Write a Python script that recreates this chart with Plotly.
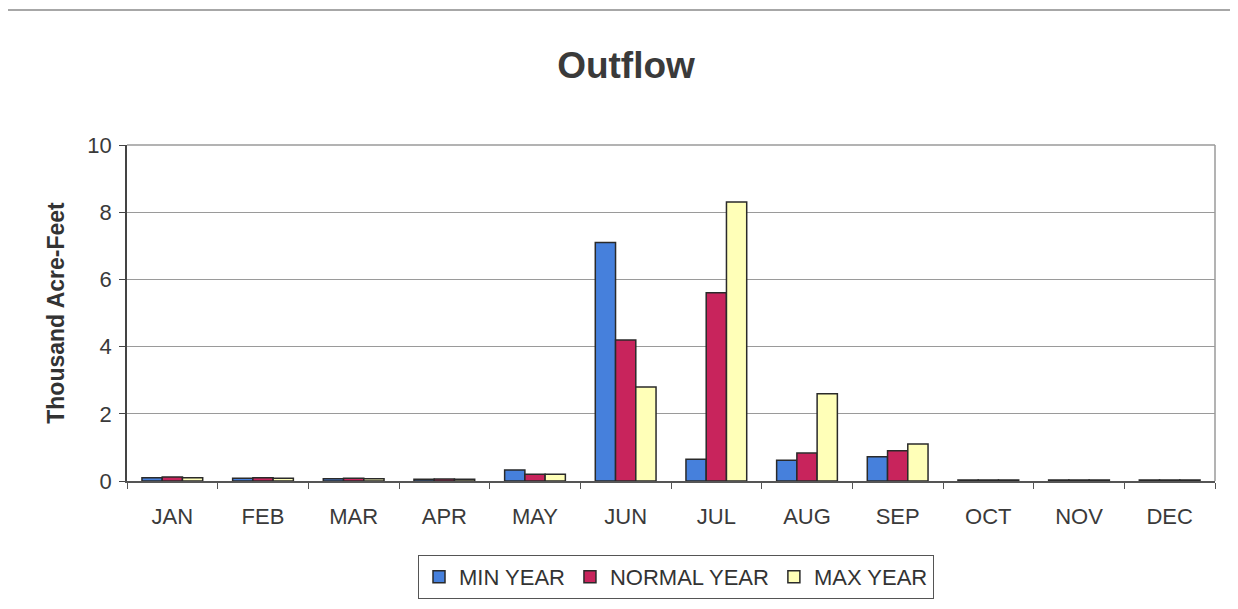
import plotly.graph_objects as go

months = ["JAN", "FEB", "MAR", "APR", "MAY", "JUN", "JUL", "AUG", "SEP", "OCT", "NOV", "DEC"]
min_year = [0.10, 0.08, 0.07, 0.05, 0.33, 7.1, 0.65, 0.62, 0.72, 0.03, 0.03, 0.03]
normal_year = [0.12, 0.10, 0.08, 0.06, 0.20, 4.2, 5.6, 0.83, 0.90, 0.03, 0.03, 0.03]
max_year = [0.10, 0.08, 0.07, 0.05, 0.20, 2.8, 8.3, 2.6, 1.1, 0.03, 0.03, 0.03]

# page body has an 8px margin; compensate so the figure matches window coordinates
OFF = 8
W, H = 1238 - 2 * OFF, 609 - 2 * OFF
L, T = 127 - OFF, 145 - OFF
R = W - (1215 - OFF)
B = H - (481 - OFF)
PW, PH = W - L - R, H - T - B


def px_x(x):
    return (x - OFF - L) / PW


def px_y(y):
    return (H - B - (y - OFF)) / PH


fig = go.Figure()
line = dict(color="#2a2a2a", width=1.5)
fig.add_bar(x=months, y=min_year, name="MIN YEAR", marker=dict(color="#4680DC", line=line))
fig.add_bar(x=months, y=normal_year, name="NORMAL YEAR", marker=dict(color="#C8245C", line=line))
fig.add_bar(x=months, y=max_year, name="MAX YEAR", marker=dict(color="#FFFFB8", line=line))

fig.update_layout(
    width=W, height=H,
    margin=dict(l=L, r=R, t=T, b=B, autoexpand=False),
    paper_bgcolor="white", plot_bgcolor="white",
    barmode="group", bargap=0.33, bargroupgap=0,
    font=dict(family="Liberation Sans, Arial, sans-serif", color="#333333"),
    title=dict(text="<b>Outflow</b>", x=(626 - OFF) / W, xref="container", xanchor="center",
               y=1 - (65 - OFF) / H, yref="container", yanchor="middle",
               font=dict(size=37, color="#3a3a3a")),
    showlegend=True,
    legend=dict(orientation="h", x=px_x(676), xanchor="center", y=px_y(577), yanchor="middle",
                font=dict(size=22, color="#333333"), bordercolor="#555555", borderwidth=1,
                itemwidth=30, tracegroupgap=0),
    xaxis=dict(showline=True, linecolor="#555555", linewidth=1.5, ticks="outside",
               tickson="boundaries", ticklen=6, tickcolor="#555555", ticklabelstandoff=15,
               tickfont=dict(size=22, color="#3a3a3a"), mirror=False),
    yaxis=dict(range=[0, 10], dtick=2, showgrid=True, gridcolor="#9a9a9a", gridwidth=1,
               showline=True, linecolor="#444444", linewidth=1.5, ticks="outside", ticklen=6,
               tickcolor="#444444", ticklabelstandoff=3, tickfont=dict(size=22, color="#3a3a3a"),
               title=dict(text="<b>Thousand Acre-Feet</b>", font=dict(size=23, color="#333333"),
                          standoff=16), zeroline=False),
    shapes=[
        dict(type="line", xref="paper", yref="paper", x0=1, x1=1, y0=0, y1=1,
             line=dict(color="#9a9a9a", width=1.5)),
        dict(type="line", xref="paper", yref="paper", x0=0, x1=1, y0=1, y1=1,
             line=dict(color="#9a9a9a", width=1.5)),
        dict(type="line", xref="paper", yref="paper", x0=px_x(0), x1=px_x(1238),
             y0=px_y(10), y1=px_y(10), line=dict(color="#8a8a8a", width=1.5), layer="below"),
    ],
)

fig.write_html("out.html")
